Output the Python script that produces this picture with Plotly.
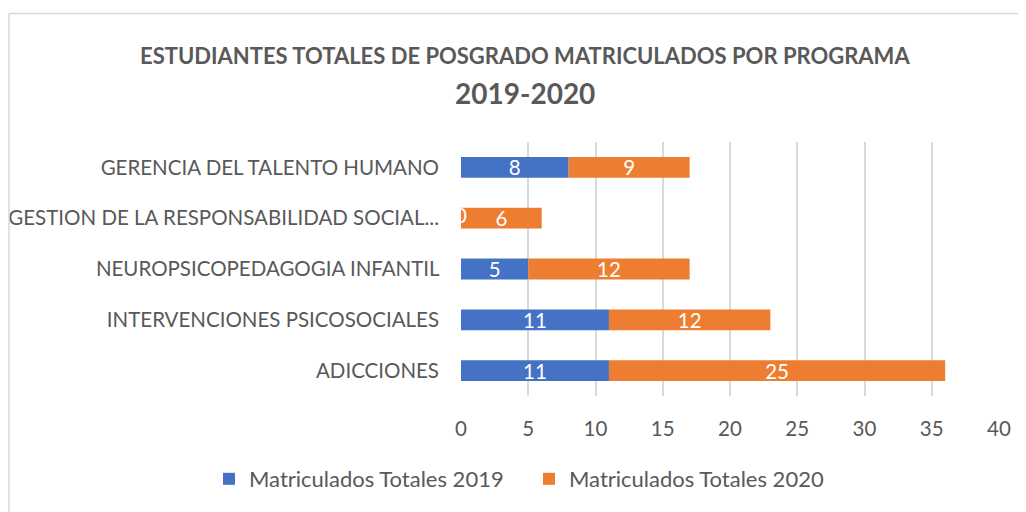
import plotly.graph_objects as go

categorias = ["ADICCIONES", "INTERVENCIONES PSICOSOCIALES", "NEUROPSICOPEDAGOGIA INFANTIL",
              "GESTION DE LA RESPONSABILIDAD SOCIAL...", "GERENCIA DEL TALENTO HUMANO"]
matric_2019 = [11, 11, 5, 0, 8]
matric_2020 = [25, 12, 12, 6, 9]
serie_2019 = "Matriculados Totales 2019"
serie_2020 = "Matriculados Totales 2020"
titulo_1 = "ESTUDIANTES TOTALES DE POSGRADO MATRICULADOS POR PROGRAMA"
titulo_2 = "2019-2020"

AZUL = "#4472C4"
NARANJA = "#ED7D31"
GRIS = "#595959"
FONT = "Lato"
FS = 20.5

OFF = 8  # page body margin
W, H = 1026 - OFF, 512 - OFF
L, R, T, B = 461 - OFF, 27, 142 - OFF, 113
PW, PH = W - L - R, H - T - B


def px_x(px):
    return (px - OFF - L) / PW


def px_y(py):
    return (H - B - (py - OFF)) / PH


fig = go.Figure()
fig.add_trace(go.Bar(y=categorias, x=matric_2019, orientation="h", name=serie_2019,
                     marker=dict(color=AZUL, line=dict(width=0)),
                     text=[str(v) if v else "" for v in matric_2019], textposition="inside",
                     insidetextanchor="middle", textangle=0, constraintext="none",
                     textfont=dict(color="white", size=FS, family=FONT),
                     width=0.41))
fig.add_trace(go.Bar(y=categorias, x=matric_2020, orientation="h", name=serie_2020,
                     base=matric_2019,
                     marker=dict(color=NARANJA, line=dict(width=0)),
                     text=[str(v) for v in matric_2020], textposition="inside",
                     insidetextanchor="middle", textangle=0, constraintext="none",
                     textfont=dict(color="white", size=FS, family=FONT),
                     width=0.41))
zeros_y = [c for c, v in zip(categorias, matric_2019) if v == 0]
zeros_x = [v for v in matric_2019 if v == 0]
fig.add_trace(go.Scatter(y=zeros_y, x=zeros_x, mode="text", text=[str(v) for v in zeros_x],
                         textfont=dict(color="white", size=FS, family=FONT),
                         showlegend=False, cliponaxis=True, hoverinfo="skip"))

fig.update_layout(
    barmode="overlay",
    width=W, height=H,
    margin=dict(l=L, r=R, t=T, b=B),
    paper_bgcolor="white", plot_bgcolor="white",
    font=dict(family=FONT, color=GRIS),
    xaxis=dict(range=[0, 40], dtick=5, showgrid=True, gridcolor="#D9D9D9", gridwidth=1.5,
               zeroline=False, showline=False, ticks="", automargin=False,
               ticklabelstandoff=18,
               tickfont=dict(size=FS, color=GRIS, family=FONT)),
    yaxis=dict(showgrid=False, zeroline=False, showline=False, ticks="", automargin=False,
               ticksuffix="    ",
               tickfont=dict(size=FS, color=GRIS, family=FONT)),
    legend=dict(orientation="h", x=px_x(209), xanchor="left", y=px_y(483), yanchor="middle",
                font=dict(size=22, color=GRIS, family=FONT),
                entrywidth=275, entrywidthmode="pixels", itemwidth=30,
                traceorder="normal"),
    annotations=[
        dict(text="<b>" + titulo_1 + "</b>", xref="paper", yref="paper",
             x=px_x(525), y=px_y(54), xanchor="center", yanchor="middle", showarrow=False,
             font=dict(size=22, color=GRIS, family=FONT)),
        dict(text="<b>" + titulo_2 + "</b>", xref="paper", yref="paper",
             x=px_x(525), y=px_y(92), xanchor="center", yanchor="middle", showarrow=False,
             font=dict(size=28, color=GRIS, family=FONT)),
    ],
    shapes=[
        dict(type="line", xref="paper", yref="paper", x0=px_x(9), x1=px_x(1100),
             y0=px_y(12), y1=px_y(12), line=dict(color="#D9D9D9", width=1.5)),
        dict(type="line", xref="paper", yref="paper", x0=px_x(9), x1=px_x(9),
             y0=px_y(600), y1=px_y(12), line=dict(color="#D9D9D9", width=1.5)),
    ],
)

fig.write_html("out.html")
